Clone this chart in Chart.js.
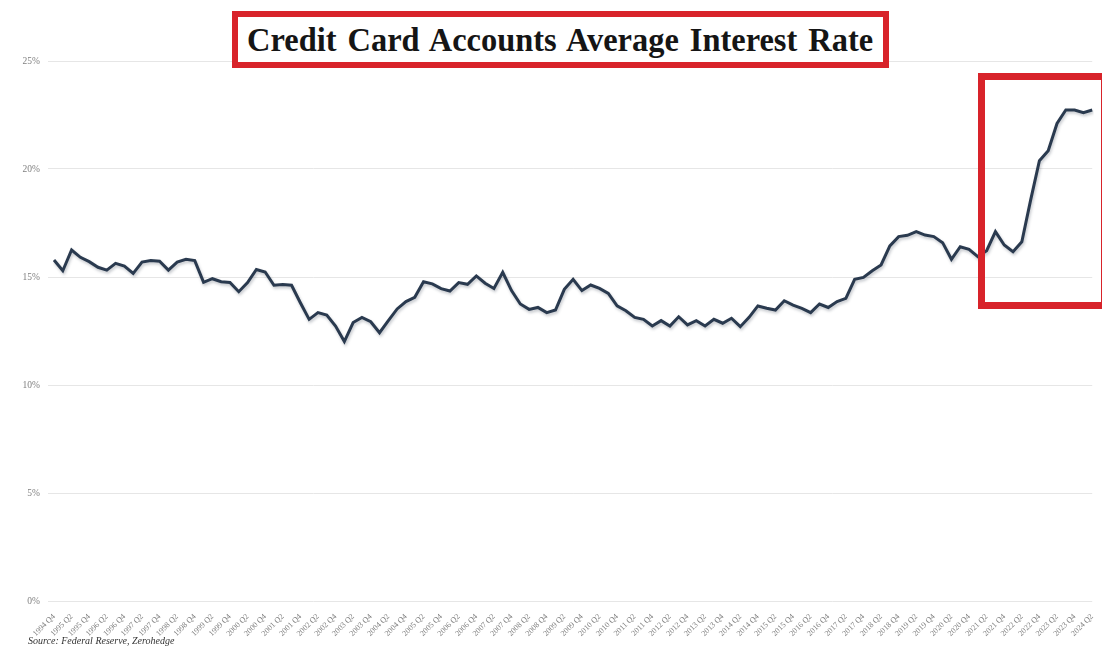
<!DOCTYPE html>
<html>
<head>
<meta charset="utf-8">
<script src="https://cdn.jsdelivr.net/npm/chart.js@4"></script>
<style>
  html, body { margin: 0; padding: 0; background: #fff; }
  #wrap { position: relative; width: 1102px; height: 650px; overflow: hidden; background: #fff; }
  #chart { position: absolute; left: 0; top: 0; }
  #title {
    position: absolute; left: 232px; top: 11px; width: 657px; height: 57px;
    box-sizing: border-box; border: 6px solid #d8232a; background: #fff;
    display: flex; align-items: center; justify-content: center; overflow: hidden;
  }
  #title span {
    font-family: "Liberation Serif", "DejaVu Serif", serif; font-weight: bold;
    font-size: 34px; color: #151515; white-space: nowrap; display: inline-block;
    transform-origin: center center; word-spacing: 3px;
  }
  #focus {
    position: absolute; left: 978px; top: 73px; width: 130px; height: 236px;
    box-sizing: border-box; border: 7px solid #d8232a;
  }
  #source {
    position: absolute; left: 28px; top: 635px;
    font-family: "Liberation Serif", serif; font-style: italic; font-size: 10px; color: #333;
  }
</style>
</head>
<body>
<div id="wrap">
  <canvas id="chart" width="1102" height="650"></canvas>
  <div id="title"><span id="titleText">Credit Card Accounts Average Interest Rate</span></div>
  <div id="focus"></div>
  <div id="source">Source: Federal Reserve, Zerohedge</div>
</div>
<script>
// Quarter labels, 1994 Q4 through 2024 Q2
const quarters = [
  "1994 Q4",
  "1995 Q1","1995 Q2","1995 Q3","1995 Q4",
  "1996 Q1","1996 Q2","1996 Q3","1996 Q4",
  "1997 Q1","1997 Q2","1997 Q3","1997 Q4",
  "1998 Q1","1998 Q2","1998 Q3","1998 Q4",
  "1999 Q1","1999 Q2","1999 Q3","1999 Q4",
  "2000 Q1","2000 Q2","2000 Q3","2000 Q4",
  "2001 Q1","2001 Q2","2001 Q3","2001 Q4",
  "2002 Q1","2002 Q2","2002 Q3","2002 Q4",
  "2003 Q1","2003 Q2","2003 Q3","2003 Q4",
  "2004 Q1","2004 Q2","2004 Q3","2004 Q4",
  "2005 Q1","2005 Q2","2005 Q3","2005 Q4",
  "2006 Q1","2006 Q2","2006 Q3","2006 Q4",
  "2007 Q1","2007 Q2","2007 Q3","2007 Q4",
  "2008 Q1","2008 Q2","2008 Q3","2008 Q4",
  "2009 Q1","2009 Q2","2009 Q3","2009 Q4",
  "2010 Q1","2010 Q2","2010 Q3","2010 Q4",
  "2011 Q1","2011 Q2","2011 Q3","2011 Q4",
  "2012 Q1","2012 Q2","2012 Q3","2012 Q4",
  "2013 Q1","2013 Q2","2013 Q3","2013 Q4",
  "2014 Q1","2014 Q2","2014 Q3","2014 Q4",
  "2015 Q1","2015 Q2","2015 Q3","2015 Q4",
  "2016 Q1","2016 Q2","2016 Q3","2016 Q4",
  "2017 Q1","2017 Q2","2017 Q3","2017 Q4",
  "2018 Q1","2018 Q2","2018 Q3","2018 Q4",
  "2019 Q1","2019 Q2","2019 Q3","2019 Q4",
  "2020 Q1","2020 Q2","2020 Q3","2020 Q4",
  "2021 Q1","2021 Q2","2021 Q3","2021 Q4",
  "2022 Q1","2022 Q2","2022 Q3","2022 Q4",
  "2023 Q1","2023 Q2","2023 Q3","2023 Q4",
  "2024 Q1","2024 Q2"
];

// Average interest rate on credit card accounts assessed interest (%)
const rates = [
  15.79,15.29,16.25,15.91,15.71,15.45,15.32,15.63,15.51,15.17,
  15.69,15.76,15.73,15.32,15.69,15.82,15.76,14.75,14.92,14.78,
  14.75,14.32,14.74,15.35,15.23,14.62,14.65,14.62,13.81,13.04,
  13.35,13.24,12.73,12.01,12.89,13.13,12.93,12.42,12.98,13.52,
  13.86,14.06,14.78,14.68,14.46,14.35,14.74,14.66,15.05,14.71,
  14.47,15.22,14.37,13.75,13.50,13.59,13.35,13.47,14.43,14.89,
  14.37,14.63,14.47,14.24,13.66,13.44,13.13,13.04,12.73,12.98,
  12.73,13.16,12.78,12.98,12.73,13.04,12.86,13.09,12.70,13.13,
  13.66,13.55,13.47,13.90,13.70,13.55,13.35,13.75,13.59,13.86,
  14.01,14.89,14.98,15.29,15.56,16.44,16.87,16.93,17.10,16.94,
  16.87,16.59,15.82,16.40,16.28,15.94,16.22,17.10,16.48,16.17,
  16.63,18.56,20.38,20.85,22.11,22.73,22.73,22.61,22.73
];

// Percent axis range and gridline spacing
const yMin = 0;
const yMax = 25;
const yStep = 5;

// Fit the boxed title to its frame width
(function fitTitle() {
  const span = document.getElementById('titleText');
  const target = 626;
  const w = span.getBoundingClientRect().width;
  span.style.transform = 'scaleX(' + (target / w) + ')';
})();

// Soft drop shadow under the rate line
const lineShadow = {
  id: 'lineShadow',
  beforeDatasetDraw(chart) {
    const ctx = chart.ctx;
    ctx.save();
    ctx.shadowColor = 'rgba(40,50,70,0.28)';
    ctx.shadowBlur = 3;
    ctx.shadowOffsetX = 1;
    ctx.shadowOffsetY = 2;
  },
  afterDatasetDraw(chart) {
    chart.ctx.restore();
  }
};

new Chart(document.getElementById('chart'), {
  type: 'line',
  data: {
    labels: quarters,
    datasets: [{
      data: rates,
      borderColor: '#2a3a4f',
      borderWidth: 3,
      pointRadius: 0,
      tension: 0,
      fill: false,
      borderJoinStyle: 'miter'
    }]
  },
  options: {
    responsive: false,
    animation: false,
    events: [],
    layout: { padding: { top: 61, right: 8, left: 0, bottom: 0 } },
    plugins: {
      legend: { display: false },
      tooltip: { enabled: false },
      title: { display: false }
    },
    scales: {
      x: {
        type: 'category',
        offset: false,
        grid: { display: false },
        border: { display: false },
        afterFit(scale) { scale.height = 49; },
        ticks: {
          autoSkip: false,
          maxRotation: 45,
          minRotation: 45,
          padding: 3,
          color: '#808080',
          font: { family: 'Liberation Serif', size: 8 },
          callback(value, index) { return index % 2 === 0 ? quarters[index] : ''; }
        }
      },
      y: {
        min: yMin,
        max: yMax,
        grid: { color: '#e6e6e6', lineWidth: 1, tickLength: 6, drawTicks: true },
        border: { display: false },
        afterFit(scale) { scale.width = 54; },
        ticks: {
          stepSize: yStep,
          padding: 8,
          color: '#808080',
          font: { family: 'Liberation Serif', size: 9.5 },
          callback(v) { return v + '%'; }
        }
      }
    }
  },
  plugins: [lineShadow]
});
</script>
</body>
</html>
